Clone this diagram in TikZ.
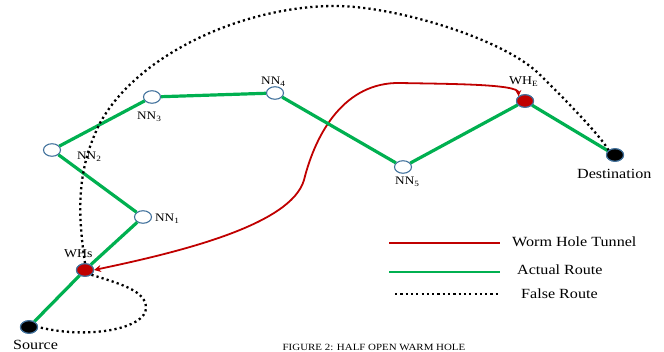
\documentclass[tikz,border=0pt]{standalone}
\usepackage{fontspec}
\setmainfont{Liberation Serif}[FakeStretch=1.15]
\usetikzlibrary{shapes.geometric,arrows.meta}
\definecolor{routegreen}{HTML}{00B050}
\definecolor{tunnelred}{HTML}{C00000}
\definecolor{nodeborder}{HTML}{41719C}
\tikzset{
  pt/.style={ellipse, minimum width=17pt, minimum height=12.5pt, inner sep=0pt, draw=nodeborder, line width=1.1pt},
  nn/.style={pt, fill=white},
  wh/.style={pt, fill=tunnelred},
  ends/.style={pt, fill=black},
  route/.style={draw=routegreen, line width=3.2pt},
  tunnel/.style={draw=tunnelred, line width=1.8pt},
  falseroute/.style={draw=black, line width=2.3pt, dash pattern=on 2.2pt off 3.1pt},
  nlab/.style={anchor=base west, inner sep=0pt, font=\fontsize{11.5}{13}\selectfont},
  blab/.style={anchor=base west, inner sep=0pt, font=\fontsize{14}{16}\selectfont},
  leglab/.style={anchor=base west, inner sep=0pt, font=\fontsize{14}{16}\selectfont},
}
\begin{document}
\begin{tikzpicture}[x=1pt,y=-1pt]
\useasboundingbox (0,0) rectangle (664,352);
% nodes
\node[ends] (Src) at (29,327) {};
\node[wh] (WHs) at (85,270) {};
\node[nn] (NN1) at (143,217) {};
\node[nn] (NN2) at (52,150) {};
\node[nn] (NN3) at (152,97) {};
\node[nn] (NN4) at (275,93) {};
\node[nn] (NN5) at (403,167) {};
\node[wh] (WHE) at (525,101) {};
\node[ends] (Dst) at (615,155) {};
% labels
\node[blab] (lSrc) at (13,350) {Source};
\node[blab] (lDst) at (577,179) {Destination};
\node[nlab, font=\fontsize{12}{14}\selectfont] (lWHs) at (64,258) {WHs};
\node[nlab, font=\fontsize{12}{14}\selectfont] (lWHE) at (509,85) {WH\textsubscript{E}};
\node[nlab] (lNN1) at (155,222) {NN\textsubscript{1}};
\node[nlab] (lNN2) at (77,160) {NN\textsubscript{2}};
\node[nlab] (lNN3) at (137,120) {NN\textsubscript{3}};
\node[nlab] (lNN4) at (261,85) {NN\textsubscript{4}};
\node[nlab] (lNN5) at (395,185) {NN\textsubscript{5}};
% worm hole tunnel
\draw[tunnel, {Stealth[length=7pt,width=7pt]}-{Stealth[length=6pt,width=6pt]}]
  (WHs.east) .. controls (180,252) and (291,225) .. (304,180)
  .. controls (316,132) and (345,82) .. (400,83)
  .. controls (450,84) and (518,84) .. (WHE.north west);
% actual route
\draw[route] (Src) -- (WHs) -- (NN1) -- (NN2) -- (NN3) -- (NN4) -- (NN5) -- (WHE) -- (Dst);
% false route
\draw[falseroute] (WHs.north) .. controls (77,209) and (77.5,168) .. (100,123)
  .. controls (138.5,53) and (245,6) .. (335,6)
  .. controls (395,6) and (500,38) .. (537,72)
  .. controls (559,93) and (600,135) .. (Dst.north west);
\draw[falseroute] (WHs.south east) .. controls (125,285) and (146,292) .. (146,308)
  .. controls (146,328) and (90,340) .. (Src.east);
% redraw nodes on top
\node[ends] at (Src) {};
\node[wh] at (WHs) {};
\node[wh] at (WHE) {};
\node[ends] at (Dst) {};
% legend
\coordinate (lr1) at (389,243); \coordinate (lr2) at (500,243);
\coordinate (lg1) at (389,272); \coordinate (lg2) at (500,272);
\coordinate (ld1) at (395,294); \coordinate (ld2) at (500,294);
\draw[draw=tunnelred, line width=2pt] (lr1) -- (lr2);
\draw[draw=routegreen, line width=2.4pt] (lg1) -- (lg2);
\draw[falseroute, line width=2pt] (ld1) -- (ld2);
\node[leglab] (t1) at (512,247) {Worm Hole Tunnel};
\node[leglab] (t2) at (517,275) {Actual Route};
\node[leglab] (t3) at (521,299) {False Route};
% caption
\node[anchor=base, inner sep=0pt, font=\fontsize{9.5}{11}\selectfont] (cap) at (374,350.5) {FIGURE 2: HALF OPEN WARM HOLE};
\end{tikzpicture}
\end{document}
